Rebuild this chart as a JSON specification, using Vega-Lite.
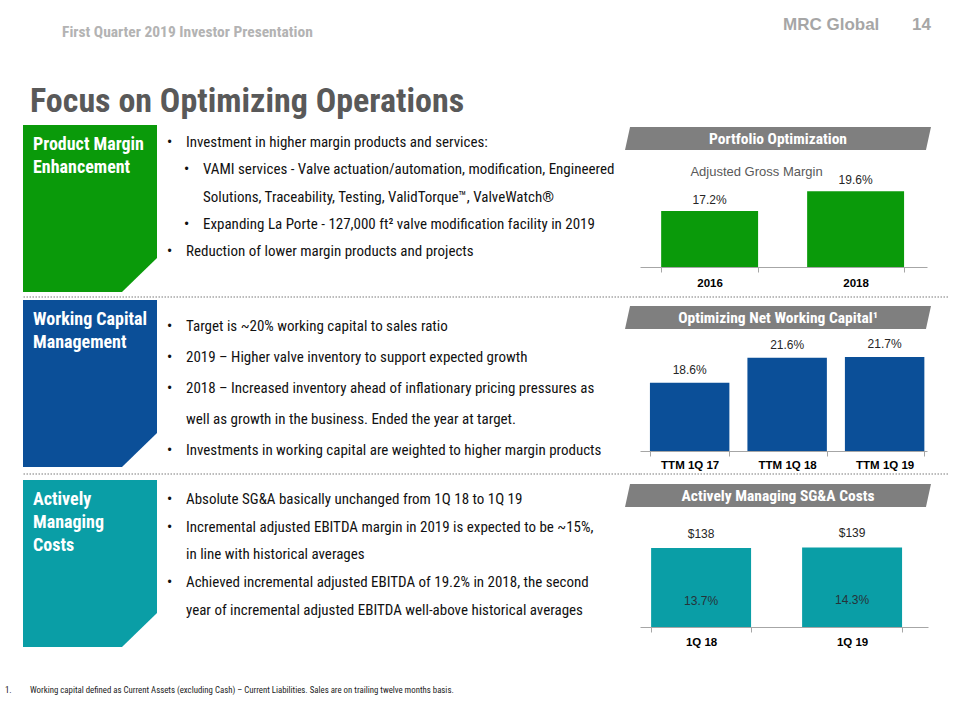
{
  "$schema": "https://vega.github.io/schema/vega-lite/v6.json",
  "background": "white",
  "padding": 0,
  "spacing": 0,
  "columns": 4,
  "align": "each",
  "bounds": "flush",
  "config": {"view": {"stroke": null}},
  "concat": [
    {
      "width": 23, "height": 125, "view": {"fill": "white"},
      "layer": [
        {"data": {"values": [{"t": "First Quarter 2019 Investor Presentation"}]},
         "mark": {"type": "text", "align": "left", "baseline": "middle", "dx": 50.5, "dy": -30.5, "font": "Roboto Condensed, sans-serif", "fontSize": 15.5, "fontWeight": "bold", "color": "#b3b3b3"},
         "encoding": {"text": {"field": "t"}}},
        {"data": {"values": [{"t": "MRC Global"}]},
         "mark": {"type": "text", "align": "left", "baseline": "middle", "dx": 771.5, "dy": -37.5, "font": "Liberation Sans, Arial, sans-serif", "fontSize": 17, "fontWeight": "bold", "color": "#a6a6a6"},
         "encoding": {"text": {"field": "t"}}},
        {"data": {"values": [{"t": "14"}]},
         "mark": {"type": "text", "align": "left", "baseline": "middle", "dx": 900.5, "dy": -37.5, "font": "Liberation Sans, Arial, sans-serif", "fontSize": 17, "fontWeight": "bold", "color": "#a6a6a6"},
         "encoding": {"text": {"field": "t"}}},
        {"data": {"values": [{"t": "Focus on Optimizing Operations"}]},
         "mark": {"type": "text", "align": "left", "baseline": "middle", "dx": 18.5, "dy": 39, "font": "Roboto Condensed, sans-serif", "fontSize": 34, "fontWeight": "bold", "color": "#595959"},
         "encoding": {"text": {"field": "t"}}}
      ]
    },
    {"width": 1, "height": 1, "data": {"values": []}, "mark": "point"},
    {"width": 1, "height": 1, "data": {"values": []}, "mark": "point"},
    {"width": 1, "height": 1, "data": {"values": []}, "mark": "point"},

    {"width": 23, "height": 172, "data": {"values": []}, "mark": "point"},
    {
      "width": 134, "height": 167,
      "data": {"values": [{"section": ["Product Margin", "Enhancement"]}]},
      "layer": [
        {"mark": {"type": "point", "shape": "M-1,-1.2463L1,-1.2463L1,0.7388L0.4776,1.2463L-1,1.2463Z", "size": 17956, "filled": true, "opacity": 1, "color": "#0a9a0a", "strokeWidth": 0}, "encoding": {}},
        {"mark": {"type": "text", "align": "left", "baseline": "alphabetic", "dx": -57, "dy": -59, "lineHeight": 23, "font": "Roboto Condensed, sans-serif", "fontSize": 18, "fontWeight": "bold", "color": "white"},
         "encoding": {"text": {"field": "section"}}}
      ]
    },
    {
      "width": 483, "height": 163.5,
      "data": {"values": [
        {"line": 0, "depth": 0, "marker": "•", "text": "Investment in higher margin products and services:"},
        {"line": 1, "depth": 1, "marker": "•", "text": "VAMI services - Valve actuation/automation, modification, Engineered"},
        {"line": 2, "depth": 1, "marker": "", "text": "Solutions, Traceability, Testing, ValidTorque™, ValveWatch®"},
        {"line": 3, "depth": 1, "marker": "•", "text": "Expanding La Porte - 127,000 ft² valve modification facility in 2019"},
        {"line": 4, "depth": 0, "marker": "•", "text": "Reduction of lower margin products and projects"}
      ]},
      "encoding": {
        "x": {"field": "depth", "type": "quantitative", "scale": {"domain": [0, 28.412], "nice": false}, "axis": null},
        "y": {"field": "line", "type": "ordinal", "scale": {"type": "point", "padding": 1, "align": 0.312}, "axis": null}
      },
      "layer": [
        {"mark": {"type": "text", "align": "center", "baseline": "middle", "dx": 12.5, "font": "Liberation Sans, Arial, sans-serif", "fontSize": 12, "color": "#111111"}, "encoding": {"text": {"field": "marker"}}},
        {"mark": {"type": "text", "align": "left", "baseline": "middle", "dx": 29, "font": "Roboto Condensed, sans-serif", "fontSize": 15, "color": "#111111"}, "encoding": {"text": {"field": "text"}}}
      ]
    },
    {
      "width": 287, "height": 142,
      "layer": [
        {"data": {"values": [{"cat": "2016", "value": 0.172}, {"cat": "2018", "value": 0.196}]},
         "layer": [
          {"mark": {"type": "bar", "color": "#0a9a0a", "clip": true},
           "encoding": {
             "x": {"field": "cat", "type": "nominal", "sort": null, "scale": {"paddingInner": 0.336, "paddingOuter": 0.151, "align": 0.48},
                   "axis": {"title": null, "labelAngle": 0, "domainColor": "#a6a6a6", "tickColor": "#a6a6a6", "tickBand": "extent", "tickSize": 5, "labelFont": "Liberation Sans, Arial, sans-serif", "labelFontSize": 11.5, "labelFontWeight": "bold", "labelColor": "#000000", "labelPadding": 5}},
             "y": {"field": "value", "type": "quantitative", "scale": {"domain": [0.1037, 0.2769], "nice": false, "zero": false}, "axis": null}}},
          {"mark": {"type": "text", "baseline": "bottom", "dy": -4, "font": "Liberation Sans, Arial, sans-serif", "fontSize": 12, "color": "#262626"},
           "encoding": {
             "x": {"field": "cat", "type": "nominal", "sort": null},
             "y": {"field": "value", "type": "quantitative"},
             "text": {"field": "value", "format": ".1%"}}}
         ]},
        {"data": {"values": [{"t": "Portfolio Optimization"}]},
         "layer": [
          {"mark": {"type": "point", "shape": "M-0.967,-0.0752L1,-0.0752L0.967,0.0752L-1,0.0752Z", "size": 93636, "filled": true, "opacity": 1, "color": "#7f7f7f", "strokeWidth": 0, "xOffset": -5.5, "yOffset": -57.5}, "encoding": {}},
          {"mark": {"type": "text", "align": "center", "baseline": "middle", "dx": -5.5, "dy": -57.5, "font": "Roboto Condensed, sans-serif", "fontSize": 15.5, "fontWeight": "bold", "color": "white"}, "encoding": {"text": {"field": "t"}}}
         ]},
        {"data": {"values": [{"t": "Adjusted Gross Margin"}]},
         "mark": {"type": "text", "align": "center", "baseline": "middle", "dx": -27, "dy": -24, "font": "Liberation Sans, Arial, sans-serif", "fontSize": 13, "color": "#595959"},
         "encoding": {"text": {"field": "t"}}}
      ]
    },

    {"width": 23, "height": 3, "data": {"values": []}, "mark": "point"},
    {"width": 134, "height": 1, "data": {"values": [{}]}, "mark": {"type": "rule", "color": "#a6a6a6", "strokeWidth": 1.5, "strokeDash": [1.5, 1.5]}, "encoding": {"y": {"datum": 0, "axis": null}}},
    {"width": 483, "height": 1, "data": {"values": [{}]}, "mark": {"type": "rule", "color": "#a6a6a6", "strokeWidth": 1.5, "strokeDash": [1.5, 1.5]}, "encoding": {"y": {"datum": 0, "axis": null}}},
    {"width": 308, "height": 1, "data": {"values": [{}]}, "mark": {"type": "rule", "color": "#a6a6a6", "strokeWidth": 1.5, "strokeDash": [1.5, 1.5]}, "encoding": {"y": {"datum": 0, "axis": null}}},

    {"width": 23, "height": 174, "data": {"values": []}, "mark": "point"},
    {
      "width": 134, "height": 167,
      "data": {"values": [{"section": ["Working Capital", "Management"]}]},
      "layer": [
        {"mark": {"type": "point", "shape": "M-1,-1.2463L1,-1.2463L1,0.7388L0.4776,1.2463L-1,1.2463Z", "size": 17956, "filled": true, "opacity": 1, "color": "#0b4f98", "strokeWidth": 0}, "encoding": {}},
        {"mark": {"type": "text", "align": "left", "baseline": "alphabetic", "dx": -57, "dy": -59, "lineHeight": 23, "font": "Roboto Condensed, sans-serif", "fontSize": 18, "fontWeight": "bold", "color": "white"},
         "encoding": {"text": {"field": "section"}}}
      ]
    },
    {
      "width": 483, "height": 171,
      "data": {"values": [
        {"line": 0, "depth": 0, "marker": "•", "text": "Target is ~20% working capital to sales ratio"},
        {"line": 1, "depth": 0, "marker": "•", "text": "2019 – Higher valve inventory to support expected growth"},
        {"line": 2, "depth": 0, "marker": "•", "text": "2018 – Increased inventory ahead of inflationary pricing pressures as"},
        {"line": 3, "depth": 0, "marker": "", "text": "well as growth in the business. Ended the year at target."},
        {"line": 4, "depth": 0, "marker": "•", "text": "Investments in working capital are weighted to higher margin products"}
      ]},
      "encoding": {
        "x": {"field": "depth", "type": "quantitative", "scale": {"domain": [0, 28.412], "nice": false}, "axis": null},
        "y": {"field": "line", "type": "ordinal", "scale": {"type": "point", "padding": 0.758, "align": 0.553}, "axis": null}
      },
      "layer": [
        {"mark": {"type": "text", "align": "center", "baseline": "middle", "dx": 12.5, "font": "Liberation Sans, Arial, sans-serif", "fontSize": 12, "color": "#111111"}, "encoding": {"text": {"field": "marker"}}},
        {"mark": {"type": "text", "align": "left", "baseline": "middle", "dx": 29, "font": "Roboto Condensed, sans-serif", "fontSize": 15, "color": "#111111"}, "encoding": {"text": {"field": "text"}}}
      ]
    },
    {
      "width": 287, "height": 151,
      "layer": [
        {"data": {"values": [{"cat": "TTM 1Q 17", "value": 0.186}, {"cat": "TTM 1Q 18", "value": 0.216}, {"cat": "TTM 1Q 19", "value": 0.217}]},
         "layer": [
          {"mark": {"type": "bar", "color": "#0b4f98", "clip": true},
           "encoding": {
             "x": {"field": "cat", "type": "nominal", "sort": null, "scale": {"paddingInner": 0.185, "paddingOuter": 0.0645, "align": 0.79},
                   "axis": {"title": null, "labelAngle": 0, "domainColor": "#a6a6a6", "tickColor": "#a6a6a6", "tickBand": "extent", "tickSize": 5, "labelFont": "Liberation Sans, Arial, sans-serif", "labelFontSize": 11.5, "labelFontWeight": "bold", "labelColor": "#000000", "labelPadding": 3}},
             "y": {"field": "value", "type": "quantitative", "scale": {"domain": [0.1036, 0.2857], "nice": false, "zero": false}, "axis": null}}},
          {"mark": {"type": "text", "baseline": "bottom", "dy": -6, "font": "Liberation Sans, Arial, sans-serif", "fontSize": 12, "color": "#262626"},
           "encoding": {
             "x": {"field": "cat", "type": "nominal", "sort": null},
             "y": {"field": "value", "type": "quantitative"},
             "text": {"field": "value", "format": ".1%"}}}
         ]},
        {"data": {"values": [{"t": "Optimizing Net Working Capital¹"}]},
         "layer": [
          {"mark": {"type": "point", "shape": "M-0.967,-0.0752L1,-0.0752L0.967,0.0752L-1,0.0752Z", "size": 93636, "filled": true, "opacity": 1, "color": "#7f7f7f", "strokeWidth": 0, "xOffset": -5.5, "yOffset": -58}, "encoding": {}},
          {"mark": {"type": "text", "align": "center", "baseline": "middle", "dx": -5.5, "dy": -58, "font": "Roboto Condensed, sans-serif", "fontSize": 15.5, "fontWeight": "bold", "color": "white"}, "encoding": {"text": {"field": "t"}}}
         ]}
      ]
    },

    {"width": 23, "height": 6, "data": {"values": []}, "mark": "point"},
    {"width": 134, "height": 1, "data": {"values": [{}]}, "mark": {"type": "rule", "color": "#a6a6a6", "strokeWidth": 1.5, "strokeDash": [1.5, 1.5]}, "encoding": {"y": {"datum": 0, "axis": null}}},
    {"width": 483, "height": 1, "data": {"values": [{}]}, "mark": {"type": "rule", "color": "#a6a6a6", "strokeWidth": 1.5, "strokeDash": [1.5, 1.5]}, "encoding": {"y": {"datum": 0, "axis": null}}},
    {"width": 308, "height": 1, "data": {"values": [{}]}, "mark": {"type": "rule", "color": "#a6a6a6", "strokeWidth": 1.5, "strokeDash": [1.5, 1.5]}, "encoding": {"y": {"datum": 0, "axis": null}}},

    {"width": 23, "height": 200, "data": {"values": []}, "mark": "point"},
    {
      "width": 134, "height": 167,
      "data": {"values": [{"section": ["Actively", "Managing", "Costs"]}]},
      "layer": [
        {"mark": {"type": "point", "shape": "M-1,-1.2463L1,-1.2463L1,0.7388L0.4776,1.2463L-1,1.2463Z", "size": 17956, "filled": true, "opacity": 1, "color": "#0a9ea6", "strokeWidth": 0}, "encoding": {}},
        {"mark": {"type": "text", "align": "left", "baseline": "alphabetic", "dx": -57, "dy": -59, "lineHeight": 23, "font": "Roboto Condensed, sans-serif", "fontSize": 18, "fontWeight": "bold", "color": "white"},
         "encoding": {"text": {"field": "section"}}}
      ]
    },
    {
      "width": 483, "height": 166.5,
      "data": {"values": [
        {"line": 0, "depth": 0, "marker": "•", "text": "Absolute SG&A basically unchanged from 1Q 18 to 1Q 19"},
        {"line": 1, "depth": 0, "marker": "•", "text": "Incremental adjusted EBITDA margin in 2019 is expected to be ~15%,"},
        {"line": 2, "depth": 0, "marker": "", "text": "in line with historical averages"},
        {"line": 3, "depth": 0, "marker": "•", "text": "Achieved incremental adjusted EBITDA of 19.2% in 2018, the second"},
        {"line": 4, "depth": 0, "marker": "", "text": "year of incremental adjusted EBITDA well-above historical averages"}
      ]},
      "encoding": {
        "x": {"field": "depth", "type": "quantitative", "scale": {"domain": [0, 28.412], "nice": false}, "axis": null},
        "y": {"field": "line", "type": "ordinal", "scale": {"type": "point", "padding": 1, "align": 0.342}, "axis": null}
      },
      "layer": [
        {"mark": {"type": "text", "align": "center", "baseline": "middle", "dx": 12.5, "font": "Liberation Sans, Arial, sans-serif", "fontSize": 12, "color": "#111111"}, "encoding": {"text": {"field": "marker"}}},
        {"mark": {"type": "text", "align": "left", "baseline": "middle", "dx": 29, "font": "Roboto Condensed, sans-serif", "fontSize": 15, "color": "#111111"}, "encoding": {"text": {"field": "text"}}}
      ]
    },
    {
      "width": 288, "height": 147,
      "layer": [
        {"data": {"values": [{"cat": "1Q 18", "value": 138, "pct": 0.137}, {"cat": "1Q 19", "value": 139, "pct": 0.143}]},
         "layer": [
          {"mark": {"type": "bar", "color": "#0a9ea6", "clip": true},
           "encoding": {
             "x": {"field": "cat", "type": "nominal", "sort": null, "scale": {"paddingInner": 0.338, "paddingOuter": 0.1227, "align": 0.3},
                   "axis": {"title": null, "labelAngle": 0, "domainColor": "#a6a6a6", "tickColor": "#a6a6a6", "tickBand": "extent", "tickSize": 5, "labelFont": "Liberation Sans, Arial, sans-serif", "labelFontSize": 11.5, "labelFontWeight": "bold", "labelColor": "#000000", "labelPadding": 4}},
             "y": {"field": "value", "type": "quantitative", "scale": {"domain": [0, 257], "nice": false, "zero": true}, "axis": null}}},
          {"mark": {"type": "text", "baseline": "bottom", "dy": -7, "font": "Liberation Sans, Arial, sans-serif", "fontSize": 12, "color": "#262626"},
           "encoding": {
             "x": {"field": "cat", "type": "nominal", "sort": null},
             "y": {"field": "value", "type": "quantitative"},
             "text": {"field": "value", "format": "$,.0f"}}},
          {"mark": {"type": "text", "baseline": "middle", "dy": 53, "font": "Liberation Sans, Arial, sans-serif", "fontSize": 12, "color": "#263238"},
           "encoding": {
             "x": {"field": "cat", "type": "nominal", "sort": null},
             "y": {"field": "value", "type": "quantitative"},
             "text": {"field": "pct", "format": ".1%"}}}
         ]},
        {"data": {"values": [{"t": "Actively Managing SG&A Costs"}]},
         "layer": [
          {"mark": {"type": "point", "shape": "M-0.967,-0.0752L1,-0.0752L0.967,0.0752L-1,0.0752Z", "size": 93636, "filled": true, "opacity": 1, "color": "#7f7f7f", "strokeWidth": 0, "xOffset": -6, "yOffset": -58}, "encoding": {}},
          {"mark": {"type": "text", "align": "center", "baseline": "middle", "dx": -6, "dy": -58, "font": "Roboto Condensed, sans-serif", "fontSize": 15.5, "fontWeight": "bold", "color": "white"}, "encoding": {"text": {"field": "t"}}}
         ]}
      ]
    },

    {
      "width": 23, "height": 40, "view": {"fill": "white"},
      "layer": [
        {"data": {"values": [{"t": "1."}]},
         "mark": {"type": "text", "align": "left", "baseline": "middle", "dx": -6.5, "dy": -10, "font": "Roboto Condensed, sans-serif", "fontSize": 8.8, "color": "#222222"},
         "encoding": {"text": {"field": "t"}}},
        {"data": {"values": [{"t": "Working capital defined as Current Assets (excluding Cash) – Current Liabilities. Sales are on trailing twelve months basis."}]},
         "mark": {"type": "text", "align": "left", "baseline": "middle", "dx": 18.5, "dy": -10, "font": "Roboto Condensed, sans-serif", "fontSize": 8.8, "color": "#222222"},
         "encoding": {"text": {"field": "t"}}}
      ]
    },
    {"width": 1, "height": 1, "data": {"values": []}, "mark": "point"},
    {"width": 1, "height": 1, "data": {"values": []}, "mark": "point"},
    {"width": 1, "height": 1, "data": {"values": []}, "mark": "point"}
  ]
}
